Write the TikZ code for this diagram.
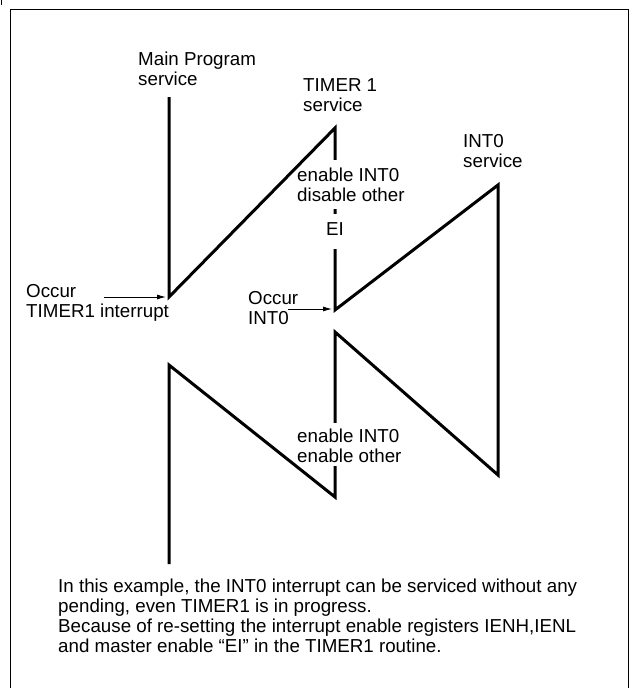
\documentclass[tikz,border=0pt]{standalone}
\usepackage{fontspec}
\setmainfont{Liberation Sans}
\usetikzlibrary{arrows.meta,positioning,calc,backgrounds}

\begin{document}
\begin{tikzpicture}[
    x=0.03cm,y=-0.03cm,
    flow/.style={line width=0.09cm,line join=miter},
    txt/.style={inner sep=0pt,align=left,font=\fontsize{16}{17}\selectfont},
    gap/.style={fill=white},
    pointer/.style={-{Latex[length=0.27cm,width=0.15cm]},line width=0.8pt,shorten >=0.09cm},
    frame/.style={line width=0.8pt}
    ]
    \useasboundingbox (0,0) rectangle (631,688);
    \draw[frame] (10,688) -- (10,9) -- (628,9) -- (628,688);
    \draw[frame] (1.5,0) -- (1.5,5);
    % flow vertices
    \coordinate (m0) at (169,97);
    \coordinate (m1) at (169,297);
    \coordinate (t0) at (335,128);
    \coordinate (t1) at (335,310);
    \coordinate (i0) at (498,185);
    \coordinate (i1) at (498,475);
    \coordinate (t2) at (335,332);
    \coordinate (t3) at (335,497);
    \coordinate (m2) at (169,365);
    \coordinate (m3) at (169,564);
    % service titles
    \node[txt,anchor=north west] (mainlbl) at (138,51.5) {Main Program\\service};
    \node[txt,anchor=north west] (t1lbl) at (303,78.5) {TIMER 1\\service};
    \node[txt,anchor=north west] (i0lbl) at (463,134.5) {INT0\\service};
    % notes on the TIMER1 line
    \node[txt,anchor=north west] (t1note) at (297,167.5) {enable INT0\\disable other};
    \node[txt,anchor=base] (ei) at (335,235) {EI};
    \node[txt,anchor=north west] (t3note) at (297,428.5) {enable INT0\\enable other};
    \begin{pgfonlayer}{background}
    \draw[flow] (m0) -- (m1) -- (t0) -- (t1) -- (i0) -- (i1) -- (t2) -- (t3) -- (m2) -- (m3);
    \fill[gap] ($(t1note.north -| t0)+(-5,-7.5)$) rectangle ($(t1note.south -| t0)+(5,7)$);
    \fill[gap] ($(ei.north)+(-5,-7.5)$) rectangle ($(ei.south)+(5,14)$);
    \fill[gap] ($(t3note.north -| t0)+(-5,-5.5)$) rectangle ($(t3note.south -| t0)+(5,3)$);
    \end{pgfonlayer}
    % interrupt requests
    \node[txt,anchor=north west] (occt) at (26,284.5) {Occur\\TIMER1 interrupt};
    \coordinate (occtarr) at (104,297);
    \draw[pointer] (occtarr) -- (m1);
    \node[txt,anchor=north west] (occi) at (248,291.5) {Occur\\INT0};
    \coordinate (occiarr) at (288,309);
    \draw[pointer] (occiarr) -- (occiarr -| t1);
    % remark
    \node[txt,anchor=north west] (remark) at (58,579) {In this example, the INT0 interrupt can be serviced without any\\pending, even TIMER1 is in progress.\\Because of re-setting the interrupt enable registers IENH,IENL\\and master enable “EI” in the TIMER1 routine.};
\end{tikzpicture}
\end{document}
